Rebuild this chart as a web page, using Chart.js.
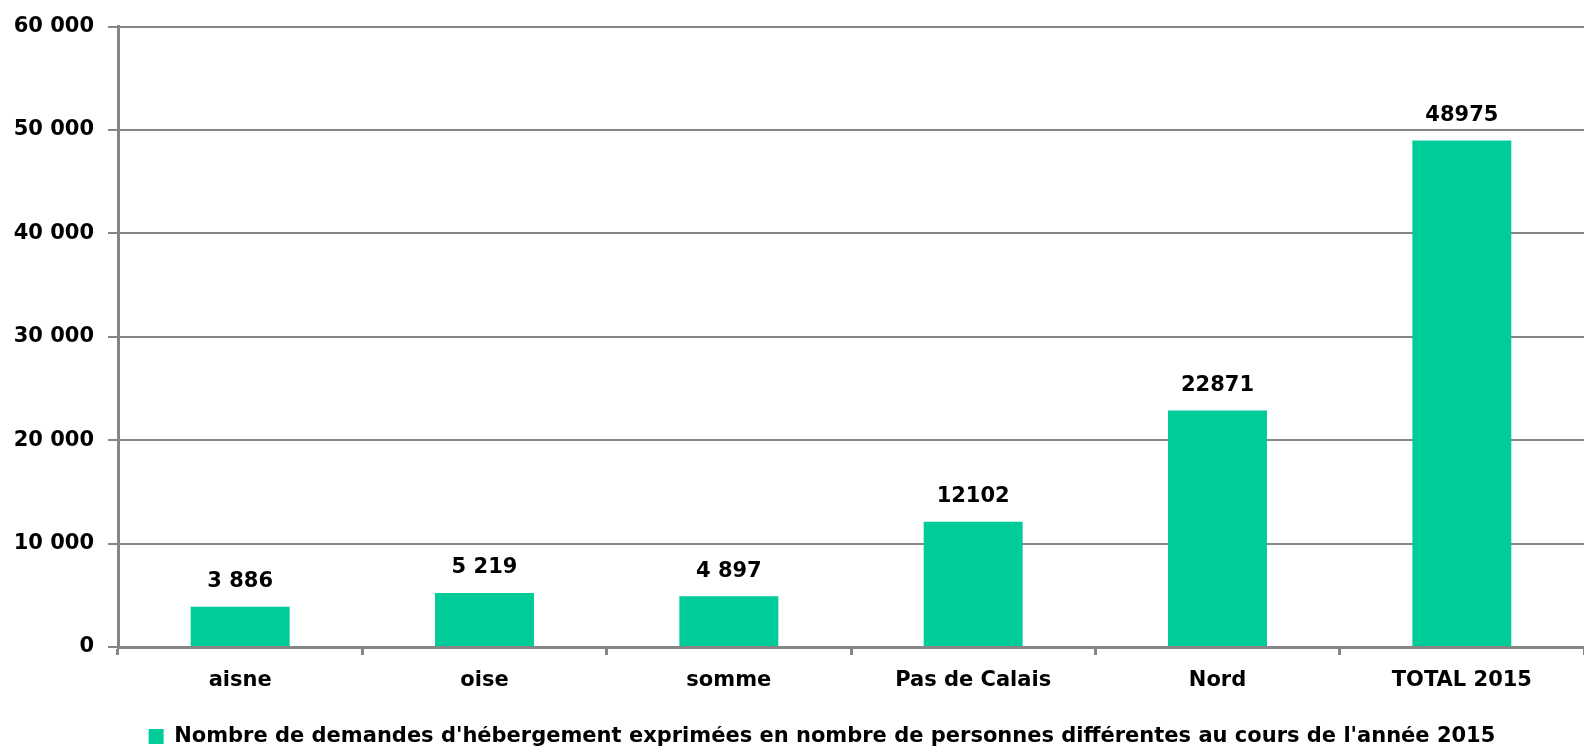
<!DOCTYPE html>
<html>
<head>
<meta charset="utf-8">
<script src="https://cdn.jsdelivr.net/npm/chart.js@4"></script>
<style>
  html, body { margin: 0; padding: 0; background: #ffffff; }
  #wrap { width: 1584px; height: 747px; }
</style>
</head>
<body>
<div id="wrap"><canvas id="chartDemandes" width="1584" height="747"></canvas></div>
<script>
// ===== Demandes d'hébergement 2015 =====
const categories = ['aisne', 'oise', 'somme', 'Pas de Calais', 'Nord', 'TOTAL 2015'];
const demandes = [3886, 5219, 4897, 12102, 22871, 48975];
const valueLabels = ['3 886', '5 219', '4 897', '12102', '22871', '48975'];
const yTicks = ['0', '10 000', '20 000', '30 000', '40 000', '50 000', '60 000'];
const seriesLabel = "Nombre de demandes d'hébergement exprimées en nombre de personnes différentes au cours de l'année 2015";

const BAR = '#00cc99';
const GRID = '#868686';
const FONT = "'DejaVu Sans', sans-serif";

// labels above the bars
const barLabels = {
  id: 'barLabels',
  afterDatasetsDraw(chart) {
    const ctx = chart.ctx;
    const meta = chart.getDatasetMeta(0);
    ctx.save();
    ctx.fillStyle = '#000';
    ctx.font = 'bold 21px ' + FONT;
    ctx.textAlign = 'center';
    ctx.textBaseline = 'middle';
    meta.data.forEach((bar, i) => {
      ctx.fillText(valueLabels[i], bar.x, bar.y - 25);
    });
    ctx.restore();
  }
};

// nudge the legend a bit to the right, like the original
const legendShift = {
  id: 'legendShift',
  afterLayout(chart) {
    if (chart.legend) {
      chart.legend.left += 30;
      chart.legend.right += 30;
    }
  }
};

new Chart(document.getElementById('chartDemandes'), {
  type: 'bar',
  data: {
    labels: categories,
    datasets: [{
      label: seriesLabel,
      data: demandes,
      backgroundColor: BAR,
      borderWidth: 0,
      barPercentage: 0.405,
      categoryPercentage: 1,
    }]
  },
  options: {
    responsive: false,
    animation: false,
    layout: { padding: { top: 26, right: 0, left: 0, bottom: -10 } },
    plugins: {
      legend: {
        position: 'bottom',
        labels: {
          color: '#000',
          font: { family: FONT, size: 21, weight: 'bold' },
          boxWidth: 15,
          boxHeight: 15,
          padding: 0,
        }
      },
      tooltip: { enabled: false }
    },
    scales: {
      x: {
        grid: { drawOnChartArea: false, color: GRID, lineWidth: 3, tickLength: 8 },
        border: { color: GRID, width: 3 },
        ticks: { color: '#000', font: { family: FONT, size: 21, weight: 'bold' }, padding: 13 },
        afterFit(scale) { scale.height = 79; }
      },
      y: {
        min: 0,
        max: 60000,
        grid: { color: GRID, lineWidth: 2, tickLength: 10 },
        border: { color: GRID, width: 3 },
        ticks: {
          stepSize: 10000,
          color: '#000',
          padding: 14,
          font: { family: FONT, size: 21, weight: 'bold' },
          callback: function(val) { return yTicks[Math.round(val / 10000)]; }
        },
        afterFit(scale) { scale.width = 118; }
      }
    }
  },
  plugins: [barLabels, legendShift]
});
</script>
</body>
</html>
